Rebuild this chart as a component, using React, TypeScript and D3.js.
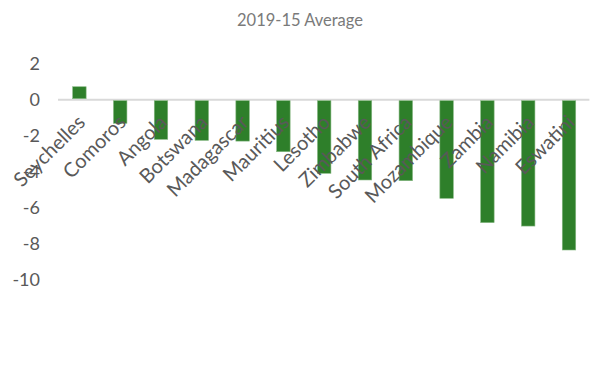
import React from "react";
import * as d3 from "d3";

const countries = ["Seychelles","Comoros","Angola","Botswana","Madagascar","Mauritius","Lesotho","Zimbabwe","South Africa","Mozambique","Zambia","Namibia","Eswatini"];
const values = [0.72,-1.31,-2.2,-2.26,-2.3,-2.89,-4.09,-4.46,-4.5,-5.48,-6.83,-7.02,-8.35];
const yTicks = [2,0,-2,-4,-6,-8,-10];
const title = "2019-15 Average";

const W = 597, H = 381;
const FONT = "Lato, 'Open Sans', sans-serif";

export default function App() {
  const x = d3.scaleBand<string>().domain(countries).range([59, 589.4]).paddingInner(0.67).paddingOuter(0.335);
  const y = d3.scaleLinear().domain([-10, 2]).range([279.7, 63.7]);
  const y0 = y(0);
  return (
    <svg width={W} height={H} style={{ position: "absolute", left: 0, top: 0, background: "#fff" }}>
      <text x={300} y={25.5} textAnchor="middle" fontFamily={FONT} fontSize={16.5} fill="#7a7a7a">{title}</text>
      {yTicks.map((t) => (
        <text key={t} x={40} y={y(t)} dy="0.36em" textAnchor="end" fontFamily={FONT} fontSize={18} fill="#595959">{t}</text>
      ))}
      <line x1={58} x2={589.4} y1={y0} y2={y0} stroke="#d9d9d9" strokeWidth={2} />
      {countries.map((c, i) => {
        const v = values[i];
        const top = Math.min(y(v), y0 + 1);
        const h = Math.abs(y(v) - (y0 + (v < 0 ? 1 : -1)));
        return <rect key={c} x={x(c)} y={v < 0 ? y0 + 1 : y(v)} width={x.bandwidth()} height={h} fill="#2e7f2a" stroke="#86b882" strokeWidth={0.6} />;
      })}
      {countries.map((c) => {
        const cx = (x(c) as number) + x.bandwidth() / 2;
        return (
          <text key={c} transform={`translate(${cx + 7},${y0 + 24}) rotate(-45)`} textAnchor="end" fontFamily={FONT} fontSize={20} fill="#595959">{c}</text>
        );
      })}
    </svg>
  );
}
